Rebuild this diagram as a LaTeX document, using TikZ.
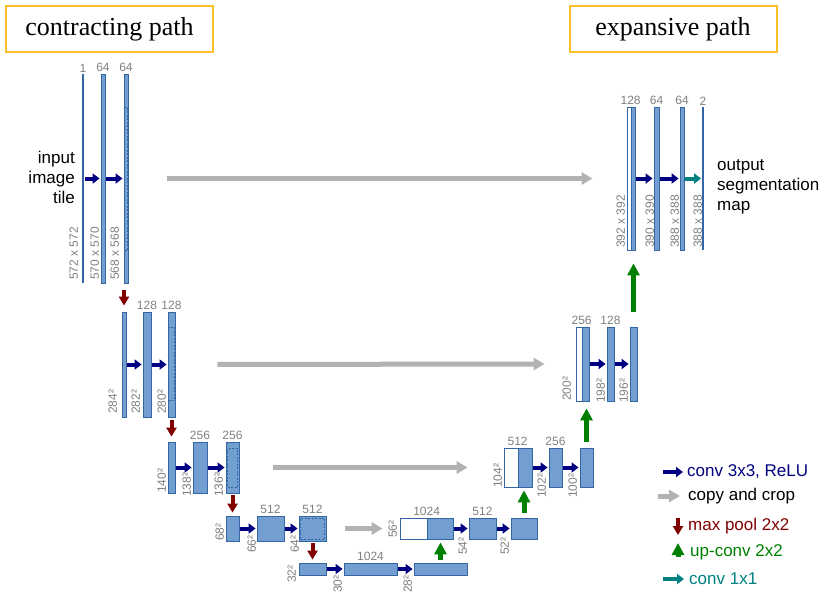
\documentclass[tikz,border=0pt]{standalone}
\usepackage{fontspec}
\setmainfont{Liberation Sans}
\newfontfamily\titlefont{Liberation Serif}
\usetikzlibrary{arrows.meta,fit,calc}
\definecolor{mapfill}{RGB}{114,159,207}
\definecolor{mapedge}{RGB}{52,101,164}
\definecolor{convblue}{RGB}{0,0,128}
\definecolor{copygray}{RGB}{178,178,178}
\definecolor{poolred}{RGB}{128,0,0}
\definecolor{upgreen}{RGB}{0,128,0}
\definecolor{outteal}{RGB}{0,128,128}
\definecolor{lblgray}{RGB}{128,128,128}
\definecolor{titlegold}{RGB}{250,190,40}
\tikzset{
  fmap/.style={draw=mapedge,fill=mapfill,inner sep=0pt,line width=0.8pt},
  wmap/.style={fmap,fill=white},
  thinmap/.style={draw=none,fill=mapedge,inner sep=0pt},
  cropbox/.style={draw=mapedge,dashed,line width=0.8pt,inner sep=0pt,dash pattern=on 2pt off 1.5pt},
  chan/.style={anchor=south,inner sep=1.5pt,font=\fontsize{12}{14}\selectfont,text=lblgray},
  sizelbl/.style={rotate=90,anchor=south west,inner sep=1pt,font=\fontsize{12}{14}\selectfont,text=lblgray},
  conv/.style={-{Triangle[length=7pt,width=10pt]},line width=4pt,draw=convblue,shorten <=1pt,shorten >=1pt},
  outconv/.style={conv,draw=outteal},
  copyarr/.style={-{Triangle[length=11pt,width=12pt]},line width=5pt,draw=copygray},
  pool/.style={-{Triangle[length=9pt,width=10pt]},line width=4pt,draw=poolred},
  upconv/.style={-{Triangle[length=12pt,width=12pt]},line width=5pt,draw=upgreen},
  titlebox/.style={draw=titlegold,line width=2pt,fill=white,minimum width=207pt,minimum height=46pt,
                   font=\titlefont\fontsize{26}{28}\selectfont},
  side/.style={font=\fontsize{17}{20}\selectfont,inner sep=1pt},
  legend/.style={anchor=west,font=\fontsize{17}{20}\selectfont,inner sep=1pt},
}
\begin{document}
\begin{tikzpicture}[x=1pt,y=-1pt]
  \useasboundingbox (0,0) rectangle (830,603);
  \node[titlebox] (tcon) at (109.5,29) {contracting path};
  \node[titlebox] (texp) at (673,29) {expansive path};

  % contracting path
  \node[thinmap,fit={(82,74) (84,283)}] (c11) {};
  \node[fmap,fit={(101,74) (105,283)}] (c12) {};
  \node[fmap,fit={(124,74) (128,283)}] (c13) {};
  \node[cropbox,fit={(124.5,107) (127.5,250)}] (k13) {};
  \node[fmap,fit={(122,312) (126,417)}] (c21) {};
  \node[fmap,fit={(143,312) (151,417)}] (c22) {};
  \node[fmap,fit={(168,312) (175,417)}] (c23) {};
  \node[cropbox,fit={(168.5,327) (174.5,400)}] (k23) {};
  \node[fmap,fit={(168,442) (175,493)}] (c31) {};
  \node[fmap,fit={(193,442) (207,493)}] (c32) {};
  \node[fmap,fit={(226,442) (239,493)}] (c33) {};
  \node[cropbox,fit={(227.5,448) (237.5,487)}] (k33) {};
  \node[fmap,fit={(226,516) (239,541)}] (c41) {};
  \node[fmap,fit={(257,516) (284,541)}] (c42) {};
  \node[fmap,fit={(299,516) (326,541)}] (c43) {};
  \node[cropbox,fit={(300.5,518) (324.5,539)}] (k43) {};
  \node[fmap,fit={(299,563) (326,575)}] (c51) {};
  \node[fmap,fit={(344,563) (397,575)}] (c52) {};
  \node[fmap,fit={(414,563) (467,575)}] (c53) {};

  % expansive path
  \node[wmap,fit={(400,518) (427,539)}] (w41) {};
  \node[fmap,fit={(427,518) (453,539)}] (u41) {};
  \node[fmap,fit={(469,518) (496,539)}] (u42) {};
  \node[fmap,fit={(511,518) (537,539)}] (u43) {};
  \node[wmap,fit={(504,448) (518,487)}] (w31) {};
  \node[fmap,fit={(518,448) (532,487)}] (u31) {};
  \node[fmap,fit={(549,448) (562,487)}] (u32) {};
  \node[fmap,fit={(580,448) (593,487)}] (u33) {};
  \node[wmap,fit={(576,327) (582,401)}] (w21) {};
  \node[fmap,fit={(582,327) (589,401)}] (u21) {};
  \node[fmap,fit={(607,327) (614,401)}] (u22) {};
  \node[fmap,fit={(630,327) (637,401)}] (u23) {};
  \node[wmap,fit={(627,107) (631,250)}] (w11) {};
  \node[fmap,fit={(631,107) (635,250)}] (u11) {};
  \node[fmap,fit={(654,107) (659,250)}] (u12) {};
  \node[fmap,fit={(680,107) (684,250)}] (u13) {};
  \node[thinmap,fit={(702.3,107) (703.7,250)}] (u14) {};

  % channels
  \node[chan] (n11) at (c11.north) {1};
  \node[chan] (n12) at (c12.north) {64};
  \node[chan] (n13) at (c13.north) {64};
  \node[chan] (n22) at (c22.north) {128};
  \node[chan] (n23) at (c23.north) {128};
  \node[chan] (n32) at (c32.north) {256};
  \node[chan] (n33) at (c33.north) {256};
  \node[chan] (n42) at (c42.north) {512};
  \node[chan] (n43) at (c43.north) {512};
  \node[chan] (n52) at (c52.north) {1024};
  \node[chan] (m41) at (u41.north west) {1024};
  \node[chan] (m42) at (u42.north) {512};
  \node[chan] (m31) at (u31.north west) {512};
  \node[chan] (m32) at (u32.north) {256};
  \node[chan] (m21) at (u21.north west) {256};
  \node[chan] (m22) at (u22.north) {128};
  \node[chan] (m11) at (u11.north west) {128};
  \node[chan] (m12) at (u12.north) {64};
  \node[chan] (m13) at (u13.north) {64};
  \node[chan] (m14) at (u14.north) {2};

  % sizes
  \node[sizelbl] (s11) at (79.3,281) {572 x 572};
  \node[sizelbl] (s12) at (100.3,281) {570 x 570};
  \node[sizelbl] (s13) at (120.3,281) {568 x 568};
  \node[sizelbl] (s21) at (118.3,415) {284²};
  \node[sizelbl] (s22) at (141.3,415) {282²};
  \node[sizelbl] (s23) at (167.3,415) {280²};
  \node[sizelbl] (s31) at (167.3,494) {140²};
  \node[sizelbl] (s32) at (192.3,498) {138²};
  \node[sizelbl] (s33) at (224.3,498) {136²};
  \node[sizelbl] (s41) at (225.3,542) {68²};
  \node[sizelbl] (s42) at (257.3,554) {66²};
  \node[sizelbl] (s43) at (300.3,554) {64²};
  \node[sizelbl] (s51) at (297.3,584) {32²};
  \node[sizelbl] (s52) at (343.3,594) {30²};
  \node[sizelbl] (s53) at (413.3,594) {28²};
  \node[sizelbl] (t41) at (398.3,539) {56²};
  \node[sizelbl] (t42) at (468.3,556) {54²};
  \node[sizelbl] (t43) at (510.3,556) {52²};
  \node[sizelbl] (t31) at (503.3,489) {104²};
  \node[sizelbl] (t32) at (547.3,499) {102²};
  \node[sizelbl] (t33) at (578.3,499) {100²};
  \node[sizelbl] (t21) at (572.3,402) {200²};
  \node[sizelbl] (t22) at (606.3,404) {198²};
  \node[sizelbl] (t23) at (629.3,404) {196²};
  \node[sizelbl] (t11) at (626.3,249) {392 x 392};
  \node[sizelbl] (t12) at (655.3,249) {390 x 390};
  \node[sizelbl] (t13) at (680.3,249) {388 x 388};
  \node[sizelbl] (t14) at (703.3,249) {388 x 388};

  \node[side,align=right,anchor=east] (inp) at (76,177) {input\\image\\tile};
  \node[side,align=left,anchor=west] (outp) at (716,187) {output\\segmentation\\map};

  % conv 3x3
  \draw[conv] (c11) -- (c12);
  \draw[conv] (c12) -- (c13);
  \draw[conv] (c21) -- (c22);
  \draw[conv] (c22) -- (c23);
  \draw[conv] (c31) -- (c32);
  \draw[conv] (c32) -- (c33);
  \draw[conv] (c41) -- (c42);
  \draw[conv] (c42) -- (c43);
  \draw[conv] (c51) -- (c52);
  \draw[conv] (c52) -- (c53);
  \draw[conv] (u41) -- (u42);
  \draw[conv] (u42) -- (u43);
  \draw[conv] (u31) -- (u32);
  \draw[conv] (u32) -- (u33);
  \draw[conv] (u21) -- (u22);
  \draw[conv] (u22) -- (u23);
  \draw[conv] (u11) -- (u12);
  \draw[conv] (u12) -- (u13);
  \draw[outconv] (u13) -- (u14);

  % copy and crop
  \draw[copyarr,shorten <=39pt,shorten >=34pt] (c13) -- (w11);
  \draw[copyarr,shorten <=42pt,shorten >=31pt] (c23) -- (w21);
  \draw[copyarr,shorten <=34pt,shorten >=36pt] (c33) -- (w31);
  \draw[copyarr,shorten <=19pt,shorten >=17pt] (c43) -- (w41);

  % max pool
  \draw[pool,shorten <=7pt,shorten >=6pt] (c21.north |- c13.south) -- (c21.north);
  \draw[pool,shorten <=3pt,shorten >=5pt] (c23) -- (c31);
  \draw[pool,shorten <=2pt,shorten >=3pt] (c33) -- (c41);
  \draw[pool,shorten <=2pt,shorten >=3pt] (c43) -- (c51);

  % up-conv
  \draw[upconv,shorten <=3pt,shorten >=3pt] (c53.north) -- (c53.north |- u41.south);
  \draw[upconv,shorten <=5pt,shorten >=3pt] (u43.north) -- (u43.north |- u31.south);
  \draw[upconv,shorten <=6pt,shorten >=7pt] (u33.north) -- (u33.north |- u21.south);
  \draw[upconv,shorten <=15pt,shorten >=13pt] (u23.north) -- (u23.north |- u11.south);

  % legend
  \node[legend,text=convblue] (lconv) at (686,472) {conv 3x3, ReLU};
  \node[legend] (lcopy) at (687,496) {copy and crop};
  \node[legend,text=poolred] (lpool) at (687,526) {max pool 2x2};
  \node[legend,text=upgreen] (lup) at (689,552) {up-conv 2x2};
  \node[legend,text=outteal] (lout) at (688,579) {conv 1x1};
  \draw[conv,shorten <=0pt,shorten >=0pt] ([xshift=-23pt]lconv.west) -- ([xshift=-3pt]lconv.west);
  \draw[copyarr] ([xshift=-29pt]lcopy.west) -- ([xshift=-7pt]lcopy.west);
  \draw[pool] ([xshift=-9pt,yshift=8pt]lpool.west) -- ([xshift=-9pt,yshift=-9pt]lpool.west);
  \draw[upconv] ([xshift=-11pt,yshift=-5pt]lup.west) -- ([xshift=-11pt,yshift=9pt]lup.west);
  \draw[outconv,shorten <=0pt,shorten >=0pt] ([xshift=-25pt]lout.west) -- ([xshift=-4pt]lout.west);
\end{tikzpicture}
\end{document}
